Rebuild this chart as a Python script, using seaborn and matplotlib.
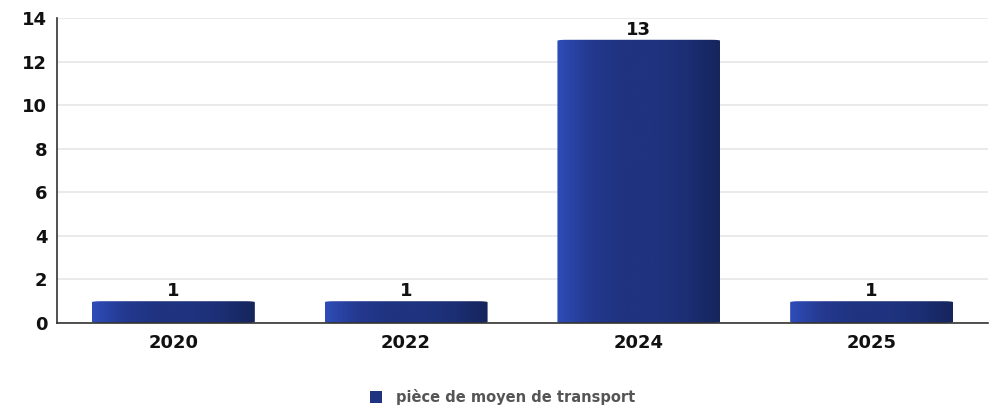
"""
Bar chart: pièce de moyen de transport per year.
"""

import numpy as np
import pandas as pd
import seaborn as sns
import matplotlib.pyplot as plt
from matplotlib.patches import FancyBboxPatch, Patch
from matplotlib.colors import LinearSegmentedColormap


years = ["2020", "2022", "2024", "2025"]
counts = [1, 1, 13, 1]
series_label = "pièce de moyen de transport"

BAR_COLOR = "#1F3380"


def main():
    sns.set_style("white")
    plt.rcParams["font.family"] = ["DejaVu Sans"]

    df = pd.DataFrame({"year": years, "count": counts})

    fig = plt.figure(figsize=(9.98, 4.07), dpi=100)
    ax = fig.add_axes([57 / 998, 84 / 407, 931 / 998, 305 / 407])

    sns.barplot(data=df, x="year", y="count", color=BAR_COLOR,
                width=0.7, saturation=1, ax=ax, zorder=2)

    ax.set_ylim(0, 14)
    ax.set_xlim(-0.5, len(years) - 0.5)
    ax.set_yticks(np.arange(0, 15, 2))
    ax.yaxis.grid(True, color="#E6E6E6", linewidth=1.2, zorder=0)
    ax.set_axisbelow(True)

    # bevelled gradient on each bar
    cmap = LinearSegmentedColormap.from_list(
        "bevel", ["#2E4DB8", "#24398F", "#1F3380", "#1F3380", "#1C2E74", "#16255C"]
    )
    grad = np.linspace(0, 1, 256).reshape(1, -1)
    for bar, val in zip(ax.patches, counts):
        x, w, h = bar.get_x(), bar.get_width(), bar.get_height()
        bar.set_visible(False)
        clip = FancyBboxPatch((x, 0), w, h,
                              boxstyle="round,pad=0,rounding_size=0.04",
                              mutation_aspect=14 / 4 * 0.35,
                              transform=ax.transData, facecolor="none",
                              edgecolor="none")
        ax.add_patch(clip)
        img = ax.imshow(grad, extent=(x, x + w, 0, h), aspect="auto",
                        cmap=cmap, zorder=2, interpolation="bicubic")
        img.set_clip_path(clip)
        ax.text(x + w / 2, h + 0.05, str(val), ha="center", va="bottom",
                fontsize=13, fontweight="bold", color="#111111")

    ax.set_xlim(-0.5, len(years) - 0.5)
    ax.set_ylim(0, 14)

    # ticks at category boundaries on x
    ax.set_xticks(np.arange(len(years)))
    ax.set_xticklabels(years)
    ax.set_xticks(np.arange(len(years) + 1) - 0.5, minor=True)
    ax.tick_params(axis="x", which="major", length=0, pad=8)
    ax.tick_params(axis="x", which="minor", length=4, width=1, color="#333333",
                   direction="out")
    ax.tick_params(axis="y", length=4, width=1, color="#333333", pad=3)
    for lab in ax.get_xticklabels() + ax.get_yticklabels():
        lab.set_fontsize(13)
        lab.set_fontweight("bold")
        lab.set_color("#111111")

    sns.despine(ax=ax, top=True, right=True)
    for side in ("left", "bottom"):
        ax.spines[side].set_color("#333333")
        ax.spines[side].set_linewidth(1.2)
    ax.set_xlabel("")
    ax.set_ylabel("")

    handle = Patch(facecolor=BAR_COLOR, edgecolor="none")
    fig.legend([handle], [series_label], loc="center",
               bbox_to_anchor=(503 / 998, 1 - 397 / 407), frameon=False,
               handlelength=0.8, handleheight=0.8, handletextpad=1.0,
               prop={"size": 10.5, "weight": "bold"}, labelcolor="#555555")

    fig.savefig("out.png", dpi=100)


if __name__ == "__main__":
    main()
